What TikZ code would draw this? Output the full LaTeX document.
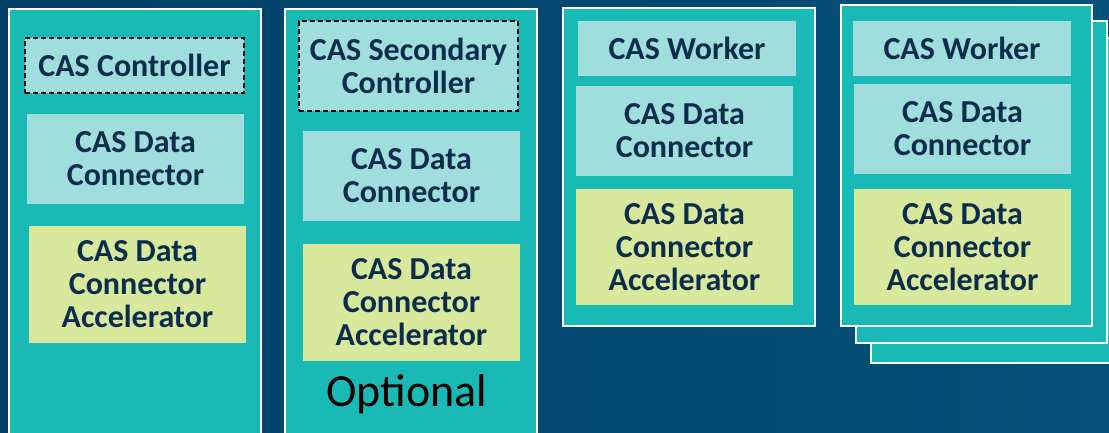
\documentclass[tikz,border=0pt]{standalone}
\usepackage{fontspec}
\setmainfont{Carlito}
\definecolor{bgA}{HTML}{003F66}
\definecolor{bgB}{HTML}{045179}
\definecolor{teal}{HTML}{19BAB6}
\definecolor{lightteal}{HTML}{A0DEDE}
\definecolor{lime}{HTML}{D8E89C}
\definecolor{navy}{HTML}{0B2D4B}
\tikzset{
  panel/.style={fill=teal, draw=white, line width=1.3pt},
  comp/.style={rectangle, inner sep=0pt, align=center, text=navy,
    font=\fontsize{32}{33}\selectfont\bfseries},
  light/.style={comp, fill=lightteal},
  accel/.style={comp, fill=lime},
  opt/.style={comp, draw=black, line width=1.8pt, dash pattern=on 5pt off 3pt},
}
\begin{document}
\begin{tikzpicture}[x=1pt,y=-1pt]
\useasboundingbox (0,0) rectangle (1109,432);
\clip (0,0) rectangle (1109,432);
\shade[left color=bgA, right color=bgB] (0,0) rectangle (1109,432);
% panels
\path[panel] (9,9) rectangle (261,445);
\path[panel] (285,9) rectangle (537,445);
\path[panel] (563,8) rectangle (815,326);
\path[panel] (871,38) rectangle (1125,363);
\path[panel] (856,21) rectangle (1107,343);
\path[panel] (841,5) rectangle (1092,326);
% panel 1
\node[light, opt, minimum width=219, minimum height=55] (ctrl) at (134.5,65.5) {CAS Controller};
\node[light, minimum width=217, minimum height=90] (dc1) at (135.5,159) {CAS Data\\Connector};
\node[accel, minimum width=217, minimum height=117] (acc1) at (137.5,284.5) {CAS Data\\Connector\\Accelerator};
% panel 2
\node[light, opt, minimum width=219, minimum height=90] (sec) at (408.5,66) {CAS Secondary\\Controller};
\node[light, minimum width=217, minimum height=90] (dc2) at (411.5,176) {CAS Data\\Connector};
\node[accel, minimum width=217, minimum height=117] (acc2) at (411.5,302.5) {CAS Data\\Connector\\Accelerator};
\node[anchor=base, inner sep=0pt, text=black, font=\fontsize{46}{50}\selectfont] (optional) at (407,406) {Optional};
% panel 3
\node[light, minimum width=218, minimum height=55] (w1) at (687,48.5) {CAS Worker};
\node[light, minimum width=217, minimum height=90] (dc3) at (684.5,131) {CAS Data\\Connector};
\node[accel, minimum width=217, minimum height=116] (acc3) at (684.5,247) {CAS Data\\Connector\\Accelerator};
% panel 4
\node[light, minimum width=218, minimum height=55] (w2) at (962,48.5) {CAS Worker};
\node[light, minimum width=217, minimum height=90] (dc4) at (962.5,129) {CAS Data\\Connector};
\node[accel, minimum width=217, minimum height=116] (acc4) at (962.5,247) {CAS Data\\Connector\\Accelerator};
\end{tikzpicture}
\end{document}
